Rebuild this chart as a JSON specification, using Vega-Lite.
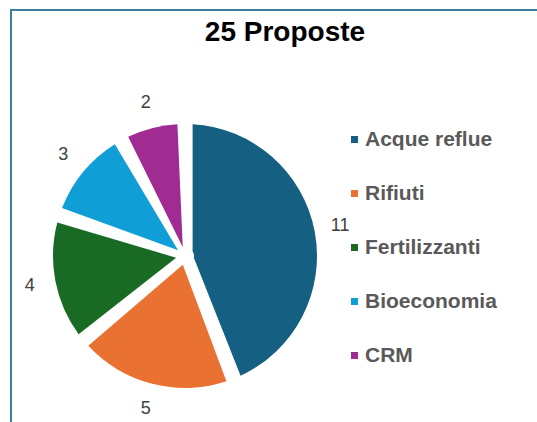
{
  "$schema": "https://vega.github.io/schema/vega-lite/v6.json",
  "width": 370,
  "height": 412,
  "autosize": {"type": "none"},
  "padding": {"left": 0, "top": 50, "right": 167, "bottom": 0},
  "background": "white",
  "title": {"text": "25 Proposte", "font": "Liberation Sans", "fontSize": 28, "fontWeight": "bold", "color": "#000000", "anchor": "middle", "frame": "group", "dx": 100, "offset": -60, "baseline": "alphabetic"},
  "data": {"values": [
    {"categoria": "Acque reflue", "n": 11},
    {"categoria": "Rifiuti", "n": 5},
    {"categoria": "Fertilizzanti", "n": 4},
    {"categoria": "Bioeconomia", "n": 3},
    {"categoria": "CRM", "n": 2}
  ]},
  "encoding": {
    "theta": {"field": "n", "type": "quantitative", "stack": true},
    "order": {"field": "n", "sort": "descending"}
  },
  "layer": [
    {
      "mark": {"type": "arc", "outerRadius": 132, "innerRadius": 9, "padAngle": 0.115},
      "encoding": {
        "color": {
          "field": "categoria", "type": "nominal",
          "scale": {"domain": ["Acque reflue", "Rifiuti", "Fertilizzanti", "Bioeconomia", "CRM"],
                    "range": ["#156082", "#E97132", "#196B24", "#0F9ED5", "#A02B93"]},
          "legend": {
            "title": null, "orient": "none", "legendX": 11, "legendY": -40,
            "padding": 119, "strokeColor": "#3a7f9e",
            "symbolType": "square", "symbolSize": 49, "symbolStrokeWidth": 0,
            "symbolOffset": 214, "labelOffset": 0,
            "labelFont": "Liberation Sans", "labelFontSize": 21, "labelFontWeight": "bold",
            "labelColor": "#595959", "rowPadding": 32, "labelLimit": 300,
            "encode": {"legend": {"update": {"strokeWidth": {"value": 2}}}}
          }
        }
      }
    },
    {
      "mark": {"type": "text", "radius": 158, "font": "Liberation Sans", "fontSize": 18, "color": "#404040"},
      "encoding": {"text": {"field": "n", "type": "quantitative"}}
    }
  ],
  "config": {"view": {"stroke": null}}
}
